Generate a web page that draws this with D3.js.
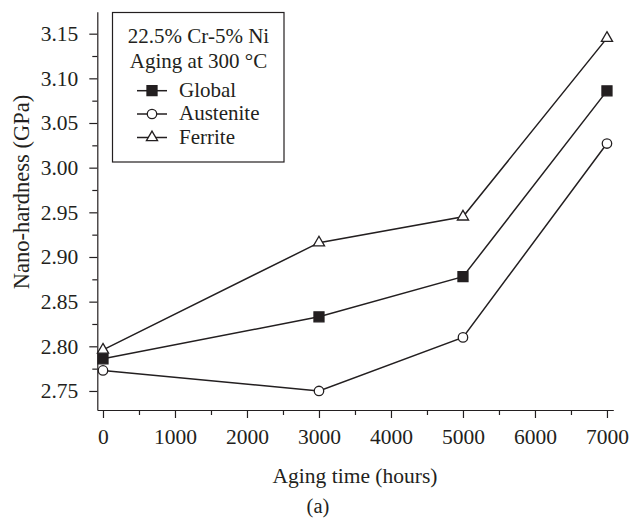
<!DOCTYPE html>
<html>
<head>
<meta charset="utf-8">
<script src="https://cdn.jsdelivr.net/npm/d3@7"></script>
<style>
  html, body { margin: 0; padding: 0; background: #fff; }
  svg { display: block; }
  text { font-family: "Liberation Serif", "Times New Roman", Times, serif; fill: #231f20; }
</style>
</head>
<body>
<svg id="chart" width="631" height="519"></svg>
<script>
// Aging time (hours)
const hours = [0, 3000, 5000, 7000];
// Nano-hardness (GPa) per phase
const globalVals    = [2.786, 2.833, 2.878, 3.086];
const austeniteVals = [2.773, 2.750, 2.810, 3.027];
const ferriteVals   = [2.796, 2.916, 2.945, 3.145];

const xTicks = [0, 1000, 2000, 3000, 4000, 5000, 6000, 7000];
const xMinor = [500, 1500, 2500, 3500, 4500, 5500, 6500];
const yTicks = [2.75, 2.80, 2.85, 2.90, 2.95, 3.00, 3.05, 3.10, 3.15];
const yMinor = [2.775, 2.825, 2.875, 2.925, 2.975, 3.025, 3.075, 3.125];

const series = [
  { name: "Global",    values: globalVals,    symbol: d3.symbolSquare,   size: 100, fill: "#231f20" },
  { name: "Austenite", values: austeniteVals, symbol: d3.symbolCircle,   size: 70,  fill: "#fff" },
  { name: "Ferrite",   values: ferriteVals,   symbol: d3.symbolTriangle, size: 54,  fill: "#fff" }
];

const ink = "#231f20";
const serif = "'Liberation Serif', 'Times New Roman', serif";
const svg = d3.select("#chart");

const x = d3.scaleLinear().domain([-79, 7088]).range([97.3, 613.3]);
const y = d3.scaleLinear().domain([2.7287, 3.1746]).range([410, 11.7]);

// axes: major ticks with labels, minor ticks without
const fmtY = d3.format(".2f");
svg.append("g").attr("transform", "translate(0,410)")
  .call(d3.axisBottom(x).tickValues(xTicks).tickSize(8).tickSizeOuter(0).tickPadding(11).tickFormat(d3.format("d")));
svg.append("g").attr("transform", "translate(0,410)")
  .call(d3.axisBottom(x).tickValues(xMinor).tickSize(5).tickSizeOuter(0).tickFormat(""))
  .select(".domain").remove();
svg.append("g").attr("transform", "translate(97.3,0)")
  .call(d3.axisLeft(y).tickValues(yTicks).tickSize(8).tickSizeOuter(0).tickPadding(11).tickFormat(fmtY));
svg.append("g").attr("transform", "translate(97.3,0)")
  .call(d3.axisLeft(y).tickValues(yMinor).tickSize(5).tickSizeOuter(0).tickFormat(""))
  .select(".domain").remove();

svg.selectAll("g").attr("font-family", serif);
svg.selectAll(".domain, .tick line").attr("stroke", ink).attr("stroke-width", 1.2);
svg.selectAll(".tick text").style("font-size", "21.5px").attr("fill", ink).style("font-family", serif);

// axis titles
svg.append("text").attr("x", 355).attr("y", 483).attr("text-anchor", "middle")
  .style("font-size", "21.5px").text("Aging time (hours)");
svg.append("text").attr("transform", "translate(28.5,192) rotate(-90)").attr("text-anchor", "middle")
  .style("font-size", "22.5px").text("Nano-hardness (GPa)");
svg.append("text").attr("x", 318).attr("y", 513).attr("text-anchor", "middle")
  .style("font-size", "20.5px").text("(a)");

// data lines and markers
const line = d3.line().x((d, i) => x(hours[i])).y(d => y(d));
series.forEach(s => {
  svg.append("path").datum(s.values).attr("d", line)
    .attr("fill", "none").attr("stroke", ink).attr("stroke-width", 1.5);
});
series.forEach(s => {
  svg.selectAll(null).data(s.values).enter().append("path")
    .attr("transform", (d, i) => `translate(${x(hours[i])},${y(d)})`)
    .attr("d", d3.symbol().type(s.symbol).size(s.size))
    .attr("fill", s.fill).attr("stroke", ink).attr("stroke-width", 1.3);
});

// legend
const lg = svg.append("g");
lg.append("rect").attr("x", 112.5).attr("y", 12.5).attr("width", 171.5).attr("height", 149.5)
  .attr("fill", "#fff").attr("stroke", ink).attr("stroke-width", 1.2);
lg.append("text").attr("x", 198.5).attr("y", 42.7).attr("text-anchor", "middle")
  .style("font-size", "21px").text("22.5% Cr-5% Ni");
lg.append("text").attr("x", 198.5).attr("y", 68.3).attr("text-anchor", "middle")
  .style("font-size", "21px").text("Aging at 300 °C");
const rows = [90.7, 114, 137.5];
series.forEach((s, i) => {
  const g = lg.append("g").attr("transform", `translate(0,${rows[i]})`);
  g.append("line").attr("x1", 137).attr("x2", 167).attr("stroke", ink).attr("stroke-width", 1.5);
  g.append("path").attr("transform", "translate(152,0)")
    .attr("d", d3.symbol().type(s.symbol).size(s.size))
    .attr("fill", s.fill).attr("stroke", ink).attr("stroke-width", 1.3);
  g.append("text").attr("x", 179).attr("y", 6).style("font-size", "21px").text(s.name);
});
</script>
</body>
</html>
